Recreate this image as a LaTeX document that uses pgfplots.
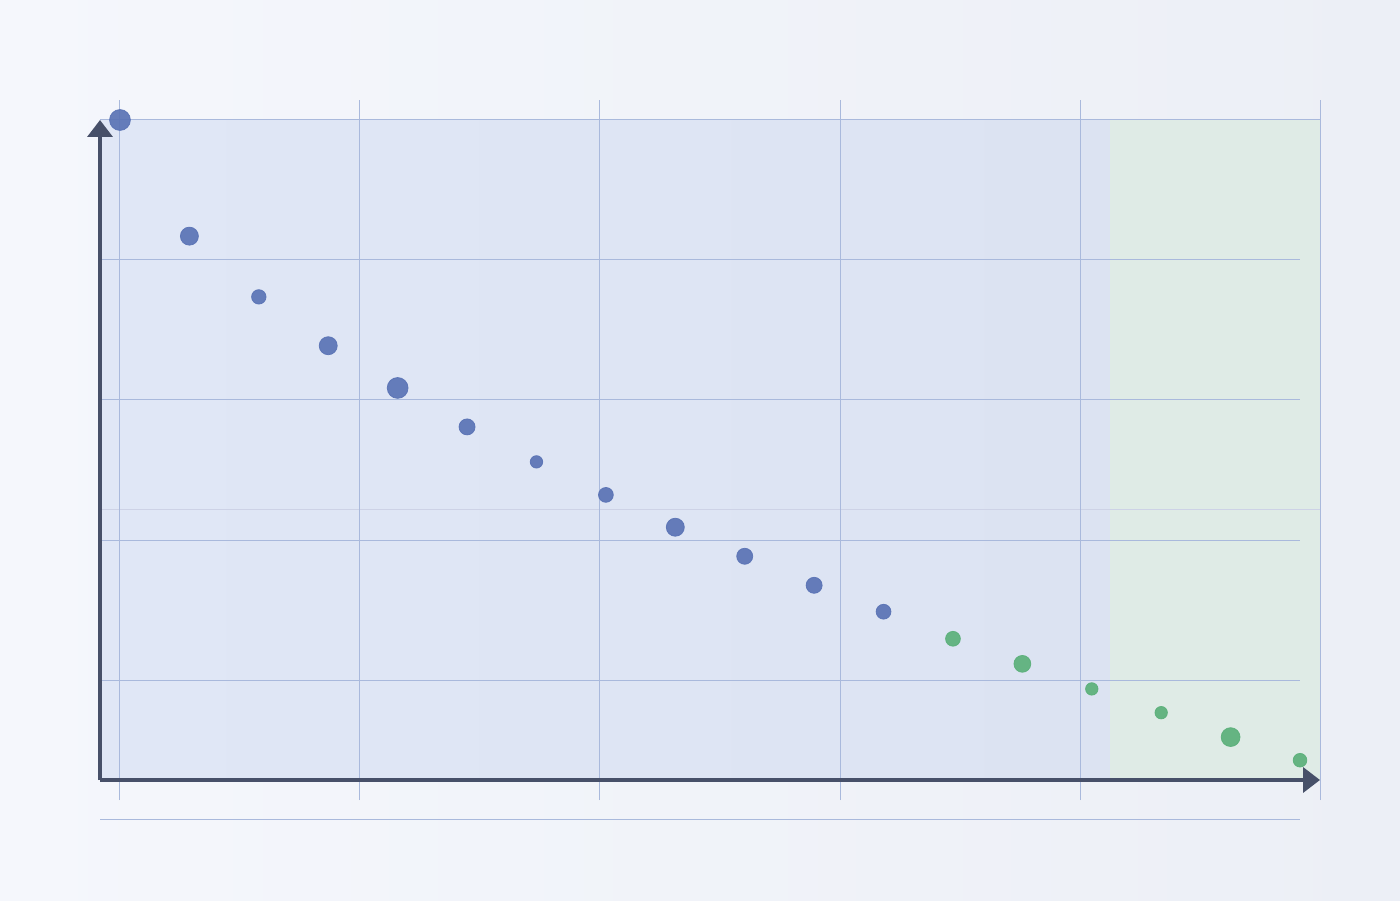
\documentclass[border=0pt]{standalone}
\usepackage{pgfplots}
\usepackage{pgfplotstable}
\pgfplotsset{compat=1.18}
\usetikzlibrary{arrows.meta}
\definecolor{bgL}{HTML}{F5F7FC}
\definecolor{bgR}{HTML}{ECEFF6}
\definecolor{plotL}{HTML}{E0E7F6}
\definecolor{plotR}{HTML}{DCE3F2}
\definecolor{zone}{HTML}{DFEBE6}
\definecolor{gridc}{HTML}{A9B9DC}
\definecolor{faint}{HTML}{CDD2E6}
\definecolor{axisc}{HTML}{475069}
\definecolor{ptblue}{HTML}{5A73B5}
\definecolor{ptgreen}{HTML}{5BB07A}

% x = step, y = value, r = marker radius (pt)
\pgfplotstableread{
x y r
0 100 5.2
1 82.4 4.5
2 73.2 3.6
3 65.8 4.5
4 59.4 5.2
5 53.5 4.0
6 48.2 3.1
7 43.2 3.7
8 38.3 4.5
9 33.9 4.0
10 29.5 4.0
11 25.5 3.7
}\bluedata
\pgfplotstableread{
x y r
12 21.4 3.7
13 17.6 4.2
14 13.8 3.1
15 10.2 3.1
16 6.5 4.7
17 3.0 3.4
}\greendata

\begin{document}
\begin{tikzpicture}[x=0.5pt,y=0.5pt]
\useasboundingbox (-100,-120) rectangle (1300,780);
\shade[left color=bgL, right color=bgR] (-100,-120) rectangle (1300,780);
\begin{axis}[at={(0,0)}, anchor=south west,
  width=610pt, height=330pt, scale only axis,
  xmin=-0.288, xmax=17.288, ymin=0, ymax=100,
  axis lines=none, clip=false,
  mystyle/.style={only marks, mark=*, scatter, opacity=0.92,
    visualization depends on={\thisrow{r}\as\rad},
    scatter/use mapped color={draw=#1, fill=#1},
    scatter/@pre marker code/.append style={/tikz/mark size=\rad}}]
% plot regions
\fill[left color=plotL, right color=plotR] (rel axis cs:0,0) rectangle (rel axis cs:0.8279,1);
\fill[zone] (rel axis cs:0.8279,0) rectangle (rel axis cs:1,1);
% grid
\draw[gridc, line width=0.5pt] (rel axis cs:0,1) -- (rel axis cs:1,1);
\pgfplotsinvokeforeach{0.7879,0.5758,0.3636,0.1515}{
  \draw[gridc, line width=0.5pt] (rel axis cs:0,#1) -- (rel axis cs:0.9836,#1);
}
\draw[faint, line width=0.5pt] (rel axis cs:0,0.4091) -- (rel axis cs:1,0.4091);
\pgfplotsinvokeforeach{0.01639,0.2131,0.4098,0.6066,0.8033,1}{
  \draw[gridc, line width=0.5pt] (rel axis cs:#1,-0.0303) -- (rel axis cs:#1,1.0303);
}
\draw[gridc, line width=0.5pt] (rel axis cs:0,-0.0606) -- (rel axis cs:0.9836,-0.0606);
% points
\addplot[mystyle=ptblue] table[x=x, y=y] {\bluedata};
\addplot[mystyle=ptgreen] table[x=x, y=y] {\greendata};
% axes
\draw[axisc, line width=1.8pt, -{Triangle[length=8.5pt, width=12.5pt]}] (rel axis cs:0,0) -- (rel axis cs:0,1);
\draw[axisc, line width=1.8pt, -{Triangle[length=8.5pt, width=12.5pt]}] (rel axis cs:0,0) -- (rel axis cs:1,0);
\end{axis}
\end{tikzpicture}
\end{document}
